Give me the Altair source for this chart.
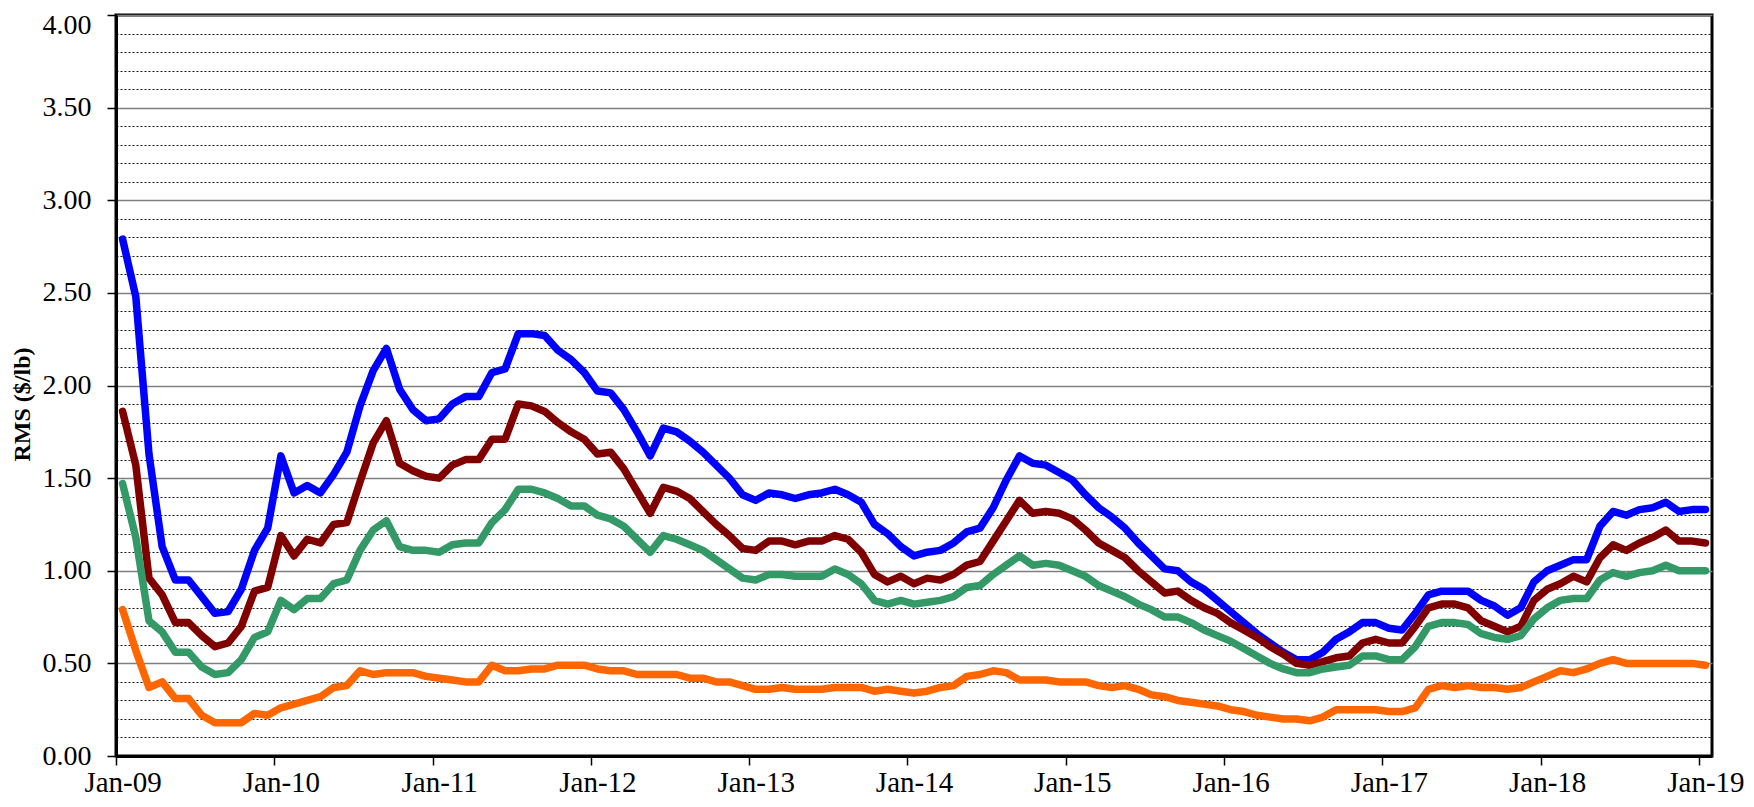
import altair as alt
import pandas as pd

# Monthly values, Jan-09 .. Jan-19 (121 points each)
blue = [
    2.79, 2.48, 1.63, 1.13, 0.95, 0.95, 0.86, 0.77, 0.78, 0.90, 1.11, 1.23,
    1.62, 1.42, 1.46, 1.42, 1.52, 1.64, 1.89, 2.08, 2.20, 1.98, 1.87, 1.81,
    1.82, 1.90, 1.94, 1.94, 2.07, 2.09, 2.28, 2.28, 2.27, 2.19, 2.14, 2.07,
    1.97, 1.96, 1.87, 1.75, 1.62, 1.77, 1.75, 1.70, 1.64, 1.57, 1.50, 1.41,
    1.38, 1.42, 1.41, 1.39, 1.41, 1.42, 1.44, 1.41, 1.37, 1.25, 1.20, 1.13,
    1.08, 1.10, 1.11, 1.15, 1.21, 1.23, 1.34, 1.49, 1.62, 1.58, 1.57, 1.53,
    1.49, 1.41, 1.34, 1.29, 1.23, 1.15, 1.08, 1.01, 1.00, 0.94, 0.90, 0.84,
    0.78, 0.72, 0.66, 0.61, 0.56, 0.52, 0.52, 0.56, 0.63, 0.67, 0.72, 0.72,
    0.69, 0.68, 0.77, 0.87, 0.89, 0.89, 0.89, 0.84, 0.81, 0.76, 0.80, 0.94,
    1.00, 1.03, 1.06, 1.06, 1.24, 1.32, 1.30, 1.33, 1.34, 1.37, 1.32, 1.33,
    1.33,
]
red = [
    1.86, 1.57, 0.96, 0.87, 0.72, 0.72, 0.65, 0.59, 0.61, 0.70, 0.89, 0.91,
    1.19, 1.08, 1.17, 1.15, 1.25, 1.26, 1.48, 1.69, 1.81, 1.58, 1.54, 1.51,
    1.50, 1.57, 1.60, 1.60, 1.71, 1.71, 1.90, 1.89, 1.86, 1.80, 1.75, 1.71,
    1.63, 1.64, 1.55, 1.43, 1.31, 1.45, 1.43, 1.39, 1.32, 1.25, 1.19, 1.12,
    1.11, 1.16, 1.16, 1.14, 1.16, 1.16, 1.19, 1.17, 1.10, 0.98, 0.94, 0.97,
    0.93, 0.96, 0.95, 0.98, 1.03, 1.05, 1.16, 1.27, 1.38, 1.31, 1.32, 1.31,
    1.28, 1.22, 1.15, 1.11, 1.07, 1.00, 0.94, 0.88, 0.89, 0.84, 0.80, 0.77,
    0.72, 0.68, 0.64, 0.59, 0.55, 0.50, 0.49, 0.51, 0.53, 0.54, 0.61, 0.63,
    0.61, 0.61, 0.70, 0.80, 0.82, 0.82, 0.80, 0.73, 0.70, 0.67, 0.70, 0.84,
    0.90, 0.93, 0.97, 0.94, 1.07, 1.14, 1.11, 1.15, 1.18, 1.22, 1.16, 1.16,
    1.15,
]
green = [
    1.47, 1.18, 0.73, 0.67, 0.56, 0.56, 0.48, 0.44, 0.45, 0.52, 0.64, 0.67,
    0.84, 0.79, 0.85, 0.85, 0.93, 0.95, 1.11, 1.22, 1.27, 1.13, 1.11, 1.11,
    1.10, 1.14, 1.15, 1.15, 1.26, 1.33, 1.44, 1.44, 1.42, 1.39, 1.35, 1.35,
    1.30, 1.28, 1.24, 1.17, 1.10, 1.19, 1.17, 1.14, 1.11, 1.06, 1.01, 0.96,
    0.95, 0.98, 0.98, 0.97, 0.97, 0.97, 1.01, 0.98, 0.93, 0.84, 0.82, 0.84,
    0.82, 0.83, 0.84, 0.86, 0.91, 0.92, 0.98, 1.03, 1.08, 1.03, 1.04, 1.03,
    1.00, 0.97, 0.92, 0.89, 0.86, 0.82, 0.79, 0.75, 0.75, 0.72, 0.68, 0.65,
    0.62, 0.58, 0.54, 0.50, 0.47, 0.45, 0.45, 0.47, 0.48, 0.49, 0.54, 0.54,
    0.52, 0.52, 0.59, 0.70, 0.72, 0.72, 0.71, 0.66, 0.64, 0.63, 0.65, 0.74,
    0.80, 0.84, 0.85, 0.85, 0.95, 0.99, 0.97, 0.99, 1.00, 1.03, 1.00, 1.00,
    1.00,
]
orange = [
    0.79, 0.57, 0.37, 0.40, 0.31, 0.31, 0.22, 0.18, 0.18, 0.18, 0.23, 0.22,
    0.26, 0.28, 0.30, 0.32, 0.37, 0.38, 0.46, 0.44, 0.45, 0.45, 0.45, 0.43,
    0.42, 0.41, 0.40, 0.40, 0.49, 0.46, 0.46, 0.47, 0.47, 0.49, 0.49, 0.49,
    0.47, 0.46, 0.46, 0.44, 0.44, 0.44, 0.44, 0.42, 0.42, 0.40, 0.40, 0.38,
    0.36, 0.36, 0.37, 0.36, 0.36, 0.36, 0.37, 0.37, 0.37, 0.35, 0.36, 0.35,
    0.34, 0.35, 0.37, 0.38, 0.43, 0.44, 0.46, 0.45, 0.41, 0.41, 0.41, 0.40,
    0.40, 0.40, 0.38, 0.37, 0.38, 0.36, 0.33, 0.32, 0.30, 0.29, 0.28, 0.27,
    0.25, 0.24, 0.22, 0.21, 0.20, 0.20, 0.19, 0.21, 0.25, 0.25, 0.25, 0.25,
    0.24, 0.24, 0.26, 0.36, 0.38, 0.37, 0.38, 0.37, 0.37, 0.36, 0.37, 0.40,
    0.43, 0.46, 0.45, 0.47, 0.50, 0.52, 0.50, 0.50, 0.50, 0.50, 0.50, 0.50,
    0.49,
]

series_names = ["Series 1", "Series 2", "Series 3", "Series 4"]
series_colors = ["#0000FF", "#800000", "#339966", "#FF6600"]
series_values = [blue, red, green, orange]

months = pd.date_range("2009-01-01", "2019-01-01", freq="MS")
x_ticks = list(range(0, 121, 12))          # Jan of each year (month index)
y_ticks = [round(k * 0.1, 1) for k in range(41)]

rows = []
for name, vals in zip(series_names, series_values):
    assert len(vals) == len(months)
    for i, (m, v) in enumerate(zip(months, vals)):
        rows.append({"idx": i, "month": m.strftime("%b-%y"), "series": name, "value": v})
df = pd.DataFrame(rows)

FONT = "Liberation Serif"
PLOT_W = 1596
PLOT_H = 741
half_month = PLOT_W / 121 / 2

is_major = "abs(datum.value*2 - round(datum.value*2)) < 0.001"

x_enc = alt.X(
    "idx:Q",
    scale=alt.Scale(domain=[-0.5, 120.5], nice=False, zero=False),
    axis=alt.Axis(
        values=x_ticks,
        labelExpr="'Jan-' + format(datum.value/12 + 9, '02d')",
        title=None,
        grid=False,
        tickOffset=-half_month,
        labelOffset=half_month,
        tickSize=9,
        tickWidth=1.5,
        tickColor="black",
        domainColor="black",
        domainWidth=3,
        labelFont=FONT,
        labelFontSize=29,
        labelColor="black",
        labelPadding=3,
        labelOverlap=False,
        labelFlush=False,
        labelBound=False,
    ),
)

y_enc = alt.Y(
    "value:Q",
    scale=alt.Scale(domain=[0, 4], nice=False, zero=True),
    axis=alt.Axis(
        values=y_ticks,
        labelExpr=is_major + " ? format(datum.value, '.2f') : ''",
        labelOffset=alt.condition("datum.value > 3.95", alt.value(10), alt.value(0)),
        title="RMS ($/lb)",
        titleFont=FONT,
        titleFontSize=24,
        titleFontWeight="bold",
        titleColor="black",
        titleAngle=270,
        titleAlign="center",
        titleBaseline="middle",
        titleX=-94,
        titleY=389,
        grid=True,
        gridColor=alt.condition(is_major, alt.value("#7f7f7f"), alt.value("#000000")),
        gridDash=alt.condition(is_major, alt.value([]), alt.value([2, 2])),
        gridWidth=alt.condition(is_major, alt.value(1.6), alt.value(1.0)),
        gridOpacity=alt.condition(is_major, alt.value(1.0), alt.value(0.9)),
        tickOpacity=alt.condition(is_major, alt.value(1.0), alt.value(0.0)),
        tickSize=9,
        tickWidth=1.5,
        tickColor="black",
        domainColor="black",
        domainWidth=3,
        labelFont=FONT,
        labelFontSize=28,
        labelColor="black",
        labelPadding=16,
        labelOverlap=False,
        labelFlush=False,
        labelBound=False,
    ),
)

layers = []
for name, color in zip(series_names, series_colors):
    layers.append(
        alt.Chart(df)
        .transform_filter(alt.datum.series == name)
        .mark_line(color=color, strokeWidth=7.5, strokeJoin="round", strokeCap="round")
        .encode(x=x_enc, y=y_enc, order="idx:Q")
    )

chart = (
    alt.layer(*layers)
    .properties(
        width=PLOT_W,
        height=PLOT_H,
        padding={"left": 108, "top": 7, "right": 34, "bottom": 43},
        autosize=alt.AutoSizeParams(type="none"),
        background="white",
    )
    .configure_view(stroke="black", strokeWidth=3)
)

chart.save("out.html", embed_options={"renderer": "svg", "actions": False})
